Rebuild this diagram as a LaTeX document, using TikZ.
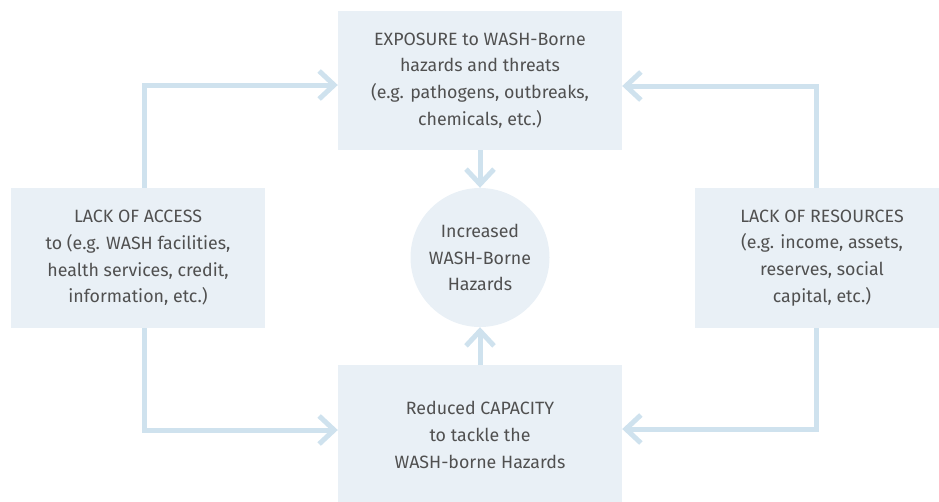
\documentclass[tikz,border=0pt]{standalone}
\usepackage{fontspec}
\setmainfont{Fira Sans}
\usetikzlibrary{arrows.meta}
\definecolor{boxfill}{HTML}{E9F0F6}
\definecolor{linec}{HTML}{CFE2EE}
\definecolor{txt}{HTML}{505050}
\begin{document}
\begin{tikzpicture}[x=1pt,y=-1pt,
  every node/.style={text=txt,font=\fontsize{17.8}{26.8}\selectfont,align=center,inner sep=0pt},
  flow/.style={draw=linec,line width=5pt,-{Straight Barb[length=15pt,width=28pt,line width=5pt]}}]
\useasboundingbox (0,0) rectangle (939,501);
\node[fill=boxfill,minimum width=284pt,minimum height=139pt] (top) at (480,80.5) {EXPOSURE to WASH-Borne\\hazards and threats\\(e.g. pathogens, outbreaks,\\chemicals, etc.)};
\node[fill=boxfill,minimum width=254pt,minimum height=140pt] (left) at (138,258) {LACK OF ACCESS\\to (e.g. WASH facilities,\\health services, credit,\\information, etc.)};
\node[fill=boxfill,minimum width=254pt,minimum height=140pt] (right) at (822,258) {LACK OF RESOURCES\\(e.g. income, assets,\\reserves, social\\capital, etc.)};
\node[fill=boxfill,minimum width=284pt,minimum height=140pt] (bot) at (480,435) {Reduced CAPACITY\\to tackle the\\WASH-borne Hazards};
\node[fill=boxfill,circle,minimum size=139pt] (mid) at (480,257.5) {Increased\\WASH-Borne\\Hazards};
\coordinate (lt) at (144,85);
\coordinate (lb) at (144,430);
\coordinate (rt) at (816,86);
\coordinate (rb) at (816,429);
\draw[flow] (top.south) -- (mid.north);
\draw[flow] (bot.north) -- (mid.south);
\draw[flow] (left.north -| lt) -- (lt) -- (lt -| top.west);
\draw[flow] (left.south -| lb) -- (lb) -- (lb -| bot.west);
\draw[flow] (right.north -| rt) -- (rt) -- (rt -| top.east);
\draw[flow] (right.south -| rb) -- (rb) -- (rb -| bot.east);
\end{tikzpicture}
\end{document}
